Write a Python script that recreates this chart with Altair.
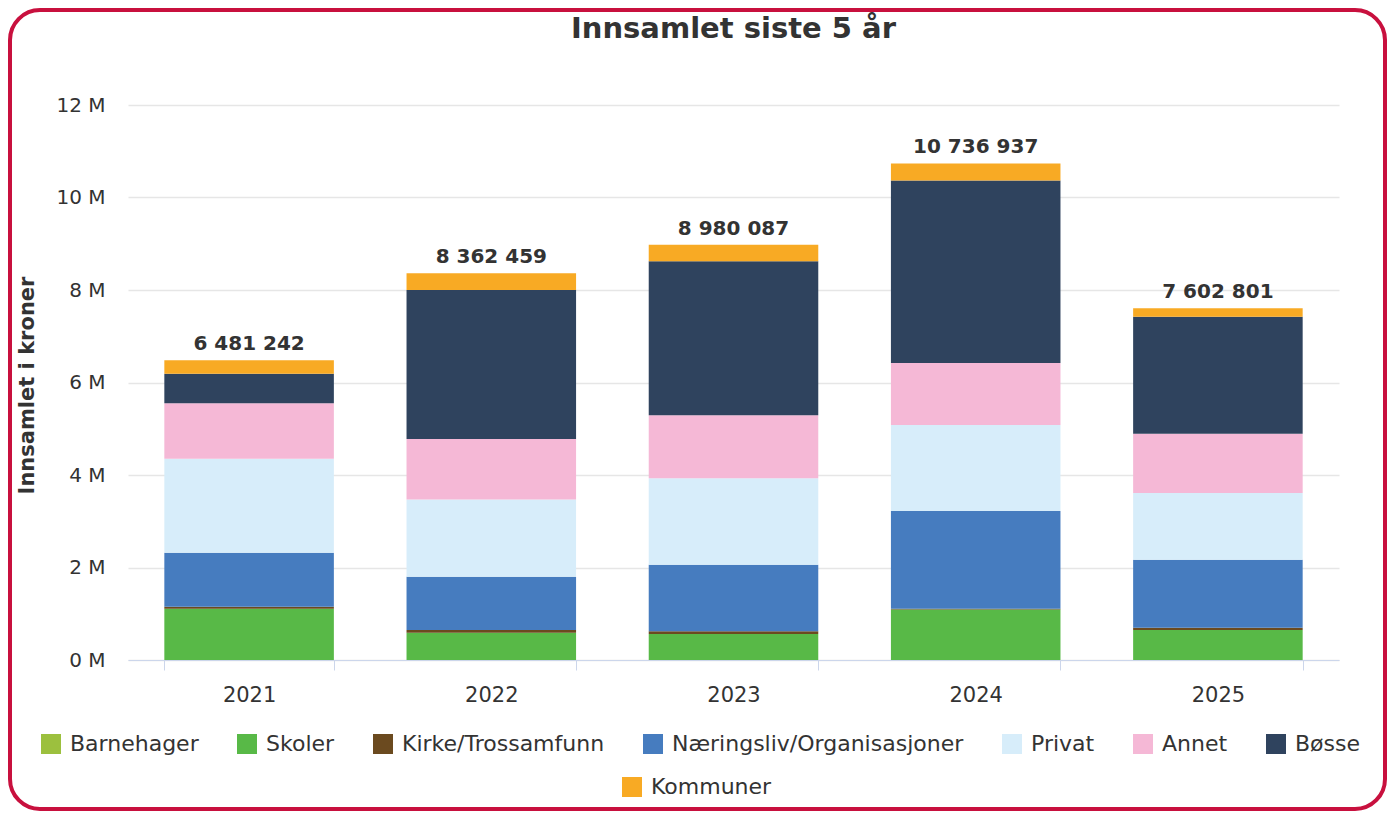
import altair as alt
import pandas as pd

# ---- data (kroner) ----
years = ["2021", "2022", "2023", "2024", "2025"]
categories = ["Barnehager", "Skoler", "Kirke/Trossamfunn", "Næringsliv/Organisasjoner",
              "Privat", "Annet", "Bøsse", "Kommuner"]
barnehager = [0, 0, 0, 0, 0]
skoler = [1110000, 590000, 560000, 1090000, 650000]
kirke = [40000, 60000, 60000, 20000, 50000]
naeringsliv = [1170000, 1150000, 1440000, 2110000, 1470000]
privat = [2030000, 1670000, 1870000, 1860000, 1440000]
annet = [1200000, 1310000, 1360000, 1340000, 1280000]
bosse = [640000, 3220000, 3330000, 3950000, 2530000]
kommuner = [291242, 362459, 360087, 366937, 182801]
totals = [6481242, 8362459, 8980087, 10736937, 7602801]

colors = ["#9cc03e", "#58b947", "#6b4a1f", "#467cbf", "#d7edfa", "#f5b8d6", "#2f435e", "#f8aa24"]

series = [barnehager, skoler, kirke, naeringsliv, privat, annet, bosse, kommuner]
rows = []
for ci, (cat, vals) in enumerate(zip(categories, series)):
    for y, v in zip(years, vals):
        rows.append({"year": y, "cat": cat, "cat2": cat, "order": ci, "value": v})
df = pd.DataFrame(rows)

tot_df = pd.DataFrame({
    "year": years,
    "total": totals,
    "label": [f"{t:,}".replace(",", " ") for t in totals],
})

FONT = "DejaVu Sans"
TXT = "#333333"

x_enc = alt.X(
    "year:N",
    scale=alt.Scale(paddingInner=0.3, paddingOuter=0.15),
    axis=alt.Axis(title=None, labelAngle=0, labelFontSize=21, labelFont=FONT, labelColor=TXT,
                  tickBand="extent", tickSize=10, tickColor="#ccd6eb", domainColor="#ccd6eb",
                  labelPadding=14, grid=False),
)
y_axis = alt.Axis(
    title="Innsamlet i kroner", titleFont=FONT, titleFontSize=21, titleFontWeight="bold",
    titleColor=TXT, titleX=-101, titleY=280, titleAngle=-90, titleAlign="center",
    titleBaseline="middle",
    values=[0, 2e6, 4e6, 6e6, 8e6, 10e6, 12e6],
    labelExpr="datum.value / 1000000 + ' M'",
    labelFontSize=20, labelFont=FONT, labelColor=TXT, labelPadding=23,
    ticks=False, domain=False, gridColor="#e6e6e6", gridWidth=1.5,
)
y_scale = alt.Scale(domain=[0, 12e6], nice=False)

base = alt.Chart(df).transform_stack(
    stack="value", groupby=["year"], as_=["y0", "y1"],
    sort=[alt.SortField("order", order="ascending")],
)

legend_common = dict(
    direction="horizontal", symbolType="square", symbolSize=400, symbolStrokeWidth=0,
    labelFontSize=22, labelFont=FONT, labelColor=TXT, labelOffset=8, labelLimit=400,
    columnPadding=37, title=None, padding=0, orient="none",
)

bars = base.transform_filter(alt.datum.cat != "Kommuner").mark_bar().encode(
    x=x_enc,
    y=alt.Y("y1:Q", scale=y_scale, axis=y_axis),
    y2="y0:Q",
    color=alt.Color("cat:N", scale=alt.Scale(domain=categories[:7], range=colors[:7]),
                    sort=categories[:7],
                    legend=alt.Legend(columns=7, legendX=-88, legendY=628, **legend_common)),
)

bars_k = base.transform_filter(alt.datum.cat == "Kommuner").mark_bar().encode(
    x=x_enc,
    y=alt.Y("y1:Q", scale=y_scale, axis=y_axis),
    y2="y0:Q",
    fill=alt.Fill("cat2:N", scale=alt.Scale(domain=categories[7:], range=colors[7:]),
                  legend=alt.Legend(columns=1, legendX=493, legendY=671, **legend_common)),
)

labels = alt.Chart(tot_df).mark_text(
    dy=-10, baseline="alphabetic", fontSize=20, fontWeight="bold", font=FONT, color=TXT
).encode(
    x=x_enc,
    y=alt.Y("total:Q", scale=y_scale, axis=y_axis),
    text="label:N",
)

frame = alt.Chart(pd.DataFrame({"k": [0]})).mark_rect(
    filled=False, stroke="#c8103e", strokeWidth=4, cornerRadius=30
).encode(
    x=alt.value(-118), x2=alt.value(1257), y=alt.value(-95), y2=alt.value(704)
)

chart = alt.layer(bars, bars_k, labels, frame).properties(
    width=1211,
    height=555,
    background="white",
    title=alt.TitleParams("Innsamlet siste 5 år", font=FONT, fontSize=29, fontWeight="bold",
                          color=TXT, anchor="middle", offset=-36),
    autosize=alt.AutoSizeParams(type="none"),
    padding={"left": 120, "top": 97, "right": 48, "bottom": 151},
).configure_view(strokeWidth=0, stroke="transparent")

chart.save("out.html", embed_options={"renderer": "svg", "actions": False})
